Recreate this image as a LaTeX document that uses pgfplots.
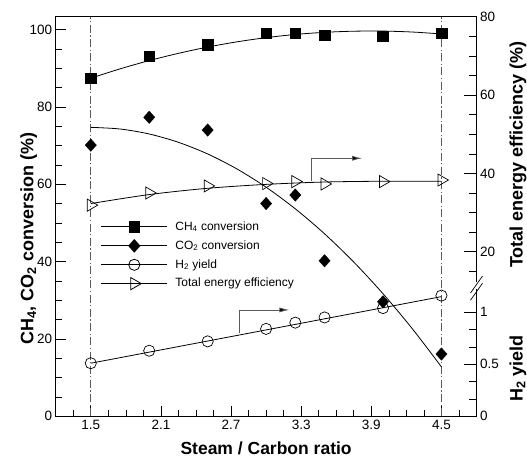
\documentclass[border=0pt]{standalone}
\usepackage{pgfplots}
\pgfplotsset{compat=1.18}
\usepackage{fontspec}
\setmainfont{Liberation Sans}
\usetikzlibrary{arrows.meta}
\definecolor{refgray}{RGB}{90,90,90}
\begin{document}
\begin{tikzpicture}
\useasboundingbox (0,0) rectangle (527pt,458pt);
\pgfplotsset{
  base/.style={at={(55.7pt,41.7pt)}, anchor=south west, scale only axis,
    width=420.8pt, height=399.6pt, xmin=1.2, xmax=4.8, clip=false,
    tick style={black, line width=0.6pt}, tick align=inside,
    ticklabel style={font=\fontsize{13.5}{13.5}\selectfont},
    axis line style={line width=0.8pt},
  },
  datline/.style={black, line width=0.8pt, smooth, tension=0.5},
}
% ---------------- main (left) axis ----------------
\begin{axis}[base, ymin=0, ymax=103.3,
  xtick={1.5,2.1,2.7,3.3,3.9,4.5}, xticklabels={1.5,2.1,2.7,3.3,3.9,4.5},
  minor xtick={1.35,1.65,1.8,1.95,2.25,2.4,2.55,2.85,3.0,3.15,3.45,3.6,3.75,4.05,4.2,4.35,4.65},
  xtick pos=bottom,
  ytick={0,20,40,60,80,100}, yticklabels={0,20,40,60,80,100},
  minor ytick={5,10,15,25,30,35,45,50,55,65,70,75,85,90,95},
  ytick pos=left,
  major tick length=10pt, minor tick length=6pt,
  xlabel={\bfseries\fontsize{17.5}{17.5}\selectfont Steam / Carbon ratio},
  xlabel style={at={(rel axis cs:0.5,0)}, anchor=base, yshift=-38pt},
  legend style={draw=none, fill=none, at={(axis cs:1.585,50.5)}, anchor=north west,
    font=\fontsize{12}{12}\selectfont, row sep=7pt, inner sep=0pt,
    nodes={inner sep=0pt, text height=9pt, text depth=2.5pt},
    /tikz/every odd column/.append style={column sep=7.7pt}},
  legend cell align=left,
  legend image code/.code={\draw[mark repeat=2,mark phase=2,#1] plot coordinates {(0pt,0pt) (33pt,0pt) (66pt,0pt)};},
]
% dash-dot guides
\draw[refgray, line width=0.8pt, dash pattern={on 8pt off 2.5pt on 1.2pt off 2.5pt}] (axis cs:1.5,0) -- (axis cs:1.5,103.3);
\draw[refgray, line width=0.8pt, dash pattern={on 8pt off 2.5pt on 1.2pt off 2.5pt}] (axis cs:4.5,0) -- (axis cs:4.5,103.3);
% CH4 fitted curve
\addplot[datline, forget plot] coordinates {
 (1.5,87.4) (1.75,89.81) (2.0,91.95) (2.25,93.83) (2.5,95.45) (2.75,96.80) (3.0,97.88)
 (3.25,98.71) (3.5,99.26) (3.75,99.55) (4.0,99.58) (4.25,99.34) (4.5,98.84)};
% CH4 points
\addplot[only marks, mark=square*, mark size=5.3pt, black, forget plot] coordinates {
 (1.5,87.4) (2.0,93.1) (2.5,96.1) (3.0,99.0) (3.25,99.0) (3.5,98.5) (4.0,98.3) (4.5,99.0)};
% CO2 fitted curve
\addplot[datline, forget plot] coordinates {
 (1.5,74.7) (1.75,74.27) (2.0,72.98) (2.25,70.83) (2.5,67.82) (2.75,63.95) (3.0,59.22)
 (3.25,53.63) (3.5,47.18) (3.75,39.87) (4.0,31.7) (4.25,22.67) (4.5,12.78)};
% CO2 points
\addplot[only marks, mark=diamond*, mark size=6.2pt, mark options={xscale=1.2}, black, forget plot] coordinates {
 (1.5,70.1) (2.0,77.3) (2.5,74.0) (3.0,55.0) (3.25,57.2) (3.5,40.2) (4.0,29.6) (4.5,16.1)};
% legend
\addlegendimage{black, line width=0.8pt, mark=square*, mark size=5.3pt}
\addlegendentry{CH\textsubscript{4} conversion}
\addlegendimage{black, line width=0.8pt, mark=diamond*, mark size=6.2pt, mark options={xscale=1.2}}
\addlegendentry{CO\textsubscript{2} conversion}
\addlegendimage{black, line width=0.8pt, mark=o, mark size=5.6pt, mark options={fill=white}}
\addlegendentry{H\textsubscript{2} yield}
\addlegendimage{black, line width=0.8pt, mark=triangle, mark size=7pt, mark options={rotate=-90, fill=white}}
\addlegendentry{Total energy efficiency}
% arrows
\draw[refgray, line width=0.8pt, arrows={-{Latex[length=10pt,width=5pt,fill=black]}}]
  (axis cs:3.384,60.7) -- (axis cs:3.384,66.7) -- (axis cs:3.822,66.7);
\draw[refgray, line width=0.8pt, arrows={-{Latex[length=10pt,width=5pt,fill=black]}}]
  (axis cs:2.773,21.6) -- (axis cs:2.773,27.5) -- (axis cs:3.199,27.5);
% left label
\node[rotate=90, font=\bfseries\fontsize{18}{18}\selectfont] at ([xshift=-27pt,yshift=-22pt]rel axis cs:0,0.5) {CH\textsubscript{4}, CO\textsubscript{2} conversion (\%)};
% right labels
\node[rotate=90, font=\bfseries\fontsize{18}{18}\selectfont] at (rel axis cs:1.0986,0.655) {Total energy efficiency (\%)};
\node[rotate=90, font=\bfseries\fontsize{18}{18}\selectfont] at (rel axis cs:1.0986,0.12) {H\textsubscript{2} yield};
\end{axis}
% ---------------- energy efficiency axis ----------------
\begin{axis}[base, ymin=-22, ymax=80, axis x line=none, axis y line*=right,
  y axis line style={draw=none},
  ytick={20,40,60,80}, yticklabels={20,40,60,80},
  minor ytick={15,25,30,35,45,50,55,65,70,75},
  major tick length=13pt, minor tick length=8pt]
\addplot[datline] coordinates {
 (1.5,32.3) (2.0,34.6) (2.5,36.2) (3.0,37.2) (3.5,37.8) (4.0,38.0) (4.5,38.0)};
\addplot[only marks, mark=triangle, mark size=7pt, mark options={rotate=-90}, black, line width=0.7pt] coordinates {
 (1.5,31.9) (2.0,35.0) (2.5,36.8) (3.0,37.4) (3.25,37.9) (3.5,37.3) (4.0,37.9) (4.5,38.3)};
\end{axis}
% ---------------- H2 yield axis ----------------
\begin{axis}[base, ymin=0, ymax=3.84, axis x line=none, axis y line*=right,
  y axis line style={draw=none},
  ytick={0,0.5,1}, yticklabels={0,0.5,1},
  minor ytick={0.1667,0.3333,0.6667,0.8333},
  major tick length=13pt, minor tick length=8pt]
\addplot[black, line width=0.8pt] coordinates {(1.5,0.51) (4.5,1.15)};
\addplot[only marks, mark=o, mark size=5.6pt, black, line width=0.7pt] coordinates {
 (1.5,0.51) (2.0,0.63) (2.5,0.72) (3.0,0.84) (3.25,0.90) (3.5,0.95) (4.0,1.04) (4.5,1.16)};
% axis break on the right
\fill[white] ([xshift=-1.5pt]rel axis cs:1,0.318) rectangle ([xshift=1.5pt]rel axis cs:1,0.336);
\draw[black, line width=0.7pt] ([xshift=-6pt,yshift=-11pt]rel axis cs:1,0.318) -- ++(12pt,17pt);
\draw[black, line width=0.7pt] ([xshift=-6pt,yshift=-11pt]rel axis cs:1,0.336) -- ++(12pt,17pt);
\end{axis}
\end{tikzpicture}
\end{document}
